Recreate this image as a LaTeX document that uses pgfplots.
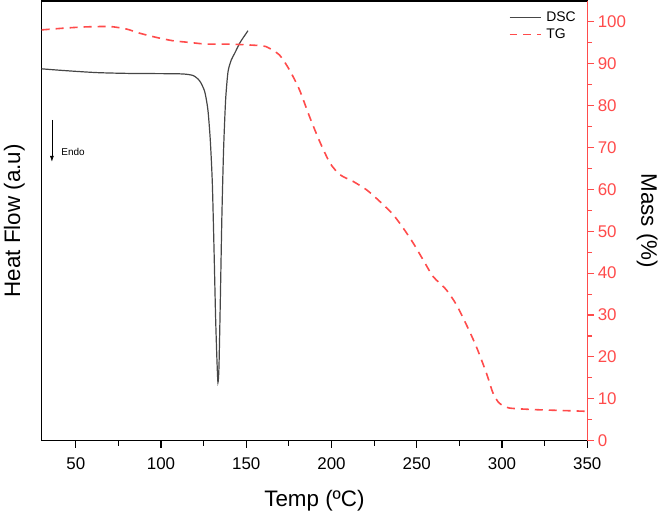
\documentclass[border=0pt]{standalone}
\usepackage{fontspec}
\setmainfont{Liberation Sans}
\usepackage{pgfplots}
\pgfplotsset{compat=1.18}
\usetikzlibrary{arrows.meta}
\definecolor{dscgray}{RGB}{70,70,70}
\definecolor{tgred}{RGB}{255,75,75}
\begin{document}
\begin{tikzpicture}
\pgfplotsset{
  every axis/.append style={
    scale only axis, width=546bp, height=440bp,
    xmin=30, xmax=350, ymin=0, ymax=105,
    /pgf/number format/assume math mode=true,
    tick label style={font=\fontsize{17}{19}\selectfont},
    label style={font=\fontsize{22.5}{25}\selectfont},
  }
}
\begin{axis}[
  name=main,
  axis line style={black, line width=1.1bp},
  xtick={50,100,...,350}, minor xtick={75,125,...,325},
  xtick pos=bottom, tick align=outside,
  major tick length=7bp, minor tick length=5bp,
  every tick/.style={black, line width=1.1bp},
  xticklabel style={yshift=-7bp},
  ytick=\empty,
  xlabel={Temp (ºC)}, ylabel={Heat Flow (a.u)},
  xlabel style={yshift=-13bp},
  ylabel style={yshift=6.5bp},
]
\addplot[dscgray, line width=1.2bp, smooth, tension=0.4] coordinates {
(30,88.8) (42.7,88.4) (62.2,87.9) (81.7,87.7) (111,87.6) (118.8,87.2)
(122.7,85.9) (125.6,83.4) (127.5,79.0) (128.9,71.8) (130.1,61.5)
(131.1,45.6) (132.0,29.7) (132.8,19.3) (133.4,13.9) (134.0,17.7)
(134.8,33.7) (135.7,53.5) (136.7,69.5) (137.9,81.4) (139.3,88.1)
(141.2,90.9) (143.2,92.5) (146.1,94.9) (148.0,96.1) (151.0,97.9)
};
\draw[-{Latex[length=6bp,width=4bp]}, black, line width=0.6bp] (axis cs:36,76.6) -- (axis cs:36,66.6);
\node[anchor=west, font=\fontsize{10}{12}\selectfont, inner sep=0pt] at (axis cs:41.5,69) {Endo};
\end{axis}
\begin{axis}[
  axis x line=none,
  axis y line*=right,
  axis line style={tgred, line width=1.1bp},
  ytick={0,10,...,100}, minor ytick={5,15,...,95},
  tick align=outside, major tick length=7bp, minor tick length=5bp,
  every tick/.style={tgred, line width=1.1bp},
  yticklabel style={tgred},
  ylabel={Mass (\%)},
  ylabel style={rotate=180, black, yshift=4bp},
  legend style={draw=none, fill=none, at={(0.992,0.985)}, anchor=north east,
    font=\fontsize{14}{16}\selectfont, row sep=2bp,
    /tikz/every even column/.append style={column sep=0bp},
    nodes={inner xsep=4bp}},
  legend cell align=left,
  legend image code/.code={\draw[#1] (0bp,0bp) -- (32bp,0bp);},
]
\addlegendimage{dscgray, line width=1.2bp}
\addlegendentry{DSC}
\addplot[tgred, line width=1.6bp, dash pattern=on 8bp off 6bp, smooth, tension=0.4] coordinates {
(30,98.1) (42.7,98.5) (55,98.8) (70,98.9) (79.8,98.3) (87.5,97.3) (97.3,96.3)
(107,95.5) (116.8,95.1) (126.6,94.7) (140.2,94.7) (155.9,94.4) (161.7,94.1)
(169.5,92.1) (175.4,88.5) (181.2,83.8) (187.1,77.4) (192.9,71.6) (199.1,66.3)
(205,63.5) (212.7,61.9) (220.6,59.9) (228.4,57.1) (236.1,54.0) (242,50.8)
(247.9,47.2) (253.7,43.2) (259.6,39.2) (267.4,36.0) (273.2,32.5) (279.1,27.7)
(284.9,22.5) (290.8,16.2) (294.7,11.4) (298.3,9.0) (304.2,7.8) (319.8,7.4)
(335,7.2) (350,7.0)
};
\addlegendentry{TG}
\end{axis}
\path[use as bounding box] ([xshift=-41.7bp,yshift=-72bp]main.south west) rectangle ([xshift=73bp,yshift=1bp]main.north east);
\end{tikzpicture}
\end{document}
